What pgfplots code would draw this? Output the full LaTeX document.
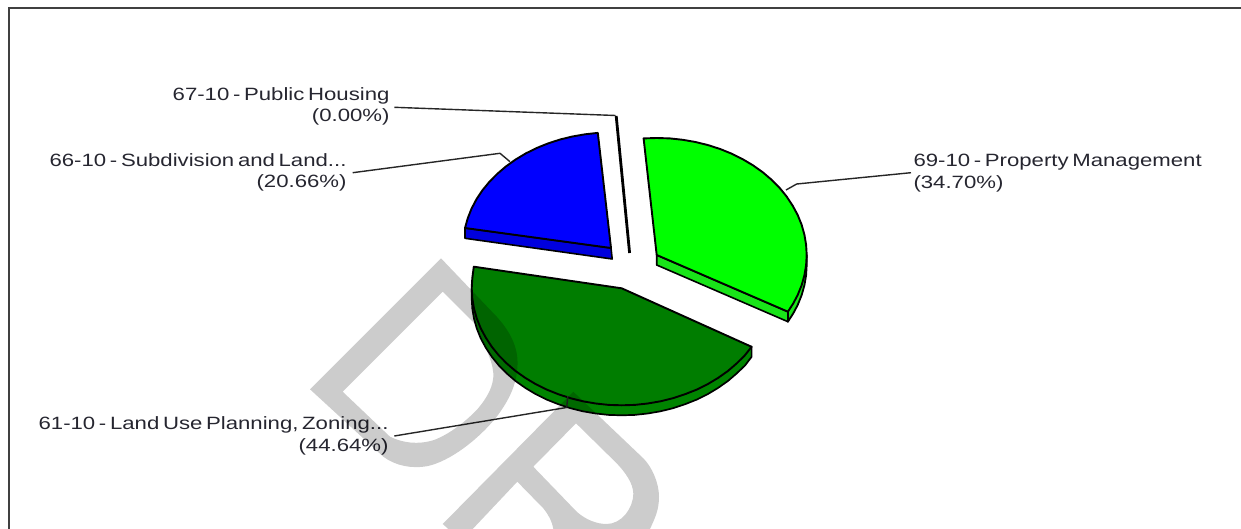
\documentclass[border=0pt]{standalone}
\usepackage{fontspec}
\setmainfont[FakeStretch=1.245,WordSpace=0.6]{Liberation Sans}
\usepackage{pgfplots}
\pgfplotsset{compat=1.18}
\definecolor{inktext}{RGB}{38,38,48}
\definecolor{leaf}{RGB}{0,125,0}
\definecolor{leafside}{RGB}{0,132,0}
\definecolor{lime}{RGB}{0,255,0}
\definecolor{limeside}{RGB}{25,228,25}
\definecolor{azure}{RGB}{0,0,255}
\definecolor{azureside}{RGB}{0,0,222}
\newcommand{\lab}[4]{\node[anchor=base #1,inner sep=0pt,text=inktext,font=\fontsize{17.8}{20}\selectfont] at (axis cs:#2,#3) {#4};}
\begin{document}
\begin{tikzpicture}
\begin{axis}[
  scale only axis, width=1241pt, height=529pt,
  xmin=0, xmax=1241, ymin=0, ymax=529, y dir=reverse,
  hide axis, clip=true, no markers,
  every axis plot/.append style={line join=round},
]
% sheet frame
\addplot[draw=black!75, line width=2pt, line join=miter] coordinates {(9,529) (9,8) (1241,8)};

% 69-10 Property Management, 34.70 percent: side faces, then the top
\addplot[fill=limeside, draw=black, line width=1.6pt] coordinates {(656.7,255) (787.9,311.7) (787.9,321.7) (656.7,265)} --cycle;
\addplot[fill=limeside, draw=black, line width=1.8pt] coordinates {(806.7,255) (806.7,265) (806.1,275.2) (804.4,285.3) (801.6,295.3) (797.7,305) (793.2,313.5) (787.9,321.7) (787.9,311.7)} --cycle;
\addplot[fill=lime, draw=black, line width=1.9pt] coordinates {
 (656.7,255) (643.6,138.4) (656.7,138) (669.8,138.4) (682.7,139.8) (695.5,142) (708,145.1) (720.1,149)
 (731.7,153.7) (742.7,159.2) (753.1,165.4) (762.8,172.3) (771.6,179.8) (779.6,187.9) (786.6,196.5)
 (792.6,205.6) (797.7,215) (801.6,224.7) (804.4,234.7) (806.1,244.8) (806.7,255) (806.1,265.2) (804.4,275.3)
 (801.6,285.3) (797.7,295) (793.2,303.5) (787.9,311.7)} --cycle;

% 66-10 Subdivision and Land, 20.66 percent
\addplot[fill=azureside, draw=black, line width=1.6pt] coordinates {(465,228) (611,248) (612.2,259) (465,238.3)} --cycle;
\addplot[fill=azure, draw=black, line width=1.9pt] coordinates {
 (611,248) (465,228) (467.8,218.1) (471.6,208.5) (476.5,199.2) (482.5,190.2) (489.4,181.8) (497.3,173.8)
 (506,166.4) (515.6,159.5) (525.8,153.4) (536.7,148) (548.1,143.4) (560.1,139.5) (572.4,136.5) (585,134.3) (597.8,132.9)} --cycle;

% 67-10 Public Housing, 0.00 percent: a slice seen edge on
\addplot[draw=black, line width=2.8pt, line cap=butt] coordinates {(616.2,116) (629.6,253)};

% 61-10 Land Use Planning, Zoning, 44.64 percent
\addplot[fill=leafside, draw=black, line width=1.7pt] coordinates {
 (751.6,346.8) (751.6,356.8) (745,365.5) (736.6,373.5) (727.9,381) (718.1,387.9) (707.8,394.1) (696.7,399.6) (685.1,404.2) (673,408.2) (660.5,411.3)
 (647.7,413.5) (634.8,414.9) (621.7,415.3) (608.6,414.9) (595.7,413.5) (582.9,411.3) (570.4,408.2) (558.3,404.2) (546.7,399.6)
 (535.6,394.1) (525.3,387.9) (515.5,381) (506.8,373.5) (498.8,365.4) (491.8,356.8) (485.8,347.7) (480.7,338.3) (476.8,328.6) (474,318.6) (472.3,308.5) (471.7,298.3) (471.7,288.3)} --cycle;
\addplot[fill=leaf, draw=black, line width=1.9pt] coordinates {
 (621.7,288.3) (751.6,346.8) (744.7,355.5) (736.6,363.5) (727.9,371) (718.1,377.9) (707.8,384.1) (696.7,389.6) (685.1,394.2) (673,398.2) (660.5,401.3)
 (647.7,403.5) (634.8,404.9) (621.7,405.3) (608.6,404.9) (595.7,403.5) (582.9,401.3) (570.4,398.2) (558.3,394.2) (546.7,389.6)
 (535.6,384.1) (525.3,377.9) (515.5,371) (506.8,363.5) (498.8,355.4) (491.8,346.8) (485.8,337.7) (480.7,328.3) (476.8,318.6) (474,308.6)
 (472.3,298.5) (471.7,288.3) (472.3,278.1) (473.8,266.7)} --cycle;

% leader lines
\addplot[draw=black!85, line width=1.4pt] coordinates {(394.3,107.3) (615.7,115.5)};
\addplot[draw=black!85, line width=1.4pt] coordinates {(352.7,172.7) (500,153.3) (510,161.7)};
\addplot[draw=black!85, line width=1.4pt] coordinates {(911,172.7) (796.7,184) (786,190)};
\addplot[draw=black!85, line width=1.4pt] coordinates {(394.3,436) (566.7,407.5) (567.8,396)};

% slice labels
\lab{east}{389.7}{101}{67-10 - Public Housing}
\lab{east}{389.7}{121.7}{(0.00\%)}
\lab{east}{346.7}{166.7}{66-10 - Subdivision and Land...}
\lab{east}{346.7}{187.3}{(20.66\%)}
\lab{west}{913.3}{166.7}{69-10 - Property Management}
\lab{west}{913.3}{188.3}{(34.70\%)}
\lab{east}{388.7}{429.3}{61-10 - Land Use Planning, Zoning...}
\lab{east}{388.7}{451.7}{(44.64\%)}

% watermark lettering, darkening whatever lies beneath it
\fill[black, fill opacity=.2, even odd rule]
  (441,258.3) -- (310,389.3) -- (383.3,456.7)
  .. controls (396,466) and (412,469) .. (428,466)
  .. controls (450,461) and (478,440) .. (496.7,416.7)
  .. controls (510,399) and (518,382) .. (517.5,361)
  .. controls (517,343) and (507,328) .. (496.7,316.7) -- cycle
  (442.7,291.7) -- (342.7,391.7) -- (390,436.7)
  .. controls (403,443) and (418,445) .. (434,440)
  .. controls (450,434) and (466,421) .. (476.7,410)
  .. controls (488,397) and (494,385) .. (493.3,373)
  .. controls (492,358) and (484,347) .. (476.7,325.7) -- cycle
  (573.3,391.7) -- (643.3,458.3)
  .. controls (652,467) and (659,483) .. (659,496.7)
  .. controls (659,510) and (655,518) .. (650,529)
  -- (553.3,529)
  .. controls (552,521) and (548,514) .. (543.3,508.3)
  -- (517.3,481.7) -- (472.7,529) -- (448.3,529) -- (442.7,524) -- cycle
  (533.3,466.7) -- (576.7,511.7)
  .. controls (586,520) and (597,524) .. (606.7,524)
  .. controls (621,524) and (633.3,509) .. (633.3,493.3)
  .. controls (633,483) and (625,472) .. (616.7,463.3)
  -- (576,423.3) -- cycle;
\end{axis}
% the page covers the whole sheet, not only what is inked on it
\path (0,0) rectangle (1241pt,529pt);
\end{tikzpicture}
\end{document}
